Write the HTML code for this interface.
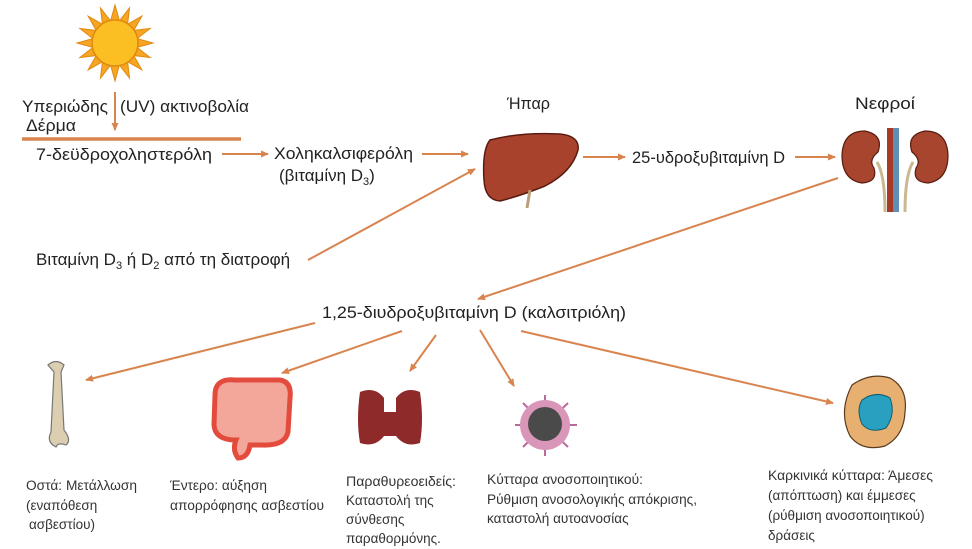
<!DOCTYPE html>
<html><head><meta charset="utf-8"><style>
html,body{margin:0;padding:0;background:#fff;}
svg{display:block;}
text{font-family:"Liberation Sans","DejaVu Sans",sans-serif;fill:#222;}
.m{font-size:17px;}
.s{font-size:13.5px;fill:#333;}
</style></head><body>
<svg width="972" height="549" viewBox="0 0 972 549" xmlns="http://www.w3.org/2000/svg">
<defs>
<marker id="a" markerWidth="8" markerHeight="8" refX="7" refY="4" orient="auto" markerUnits="userSpaceOnUse">
<path d="M0,0.5 L8,4 L0,7.5 z" fill="#d9844f"/>
</marker>
</defs>
<g transform="translate(115,43)">
<g fill="#f6a623" stroke="#e08a10" stroke-width="1">
<polygon points="0,-38 5,-20 -5,-20" transform="rotate(0)"/>
<polygon points="0,-38 5,-20 -5,-20" transform="rotate(22.5)"/>
<polygon points="0,-38 5,-20 -5,-20" transform="rotate(45)"/>
<polygon points="0,-38 5,-20 -5,-20" transform="rotate(67.5)"/>
<polygon points="0,-38 5,-20 -5,-20" transform="rotate(90)"/>
<polygon points="0,-38 5,-20 -5,-20" transform="rotate(112.5)"/>
<polygon points="0,-38 5,-20 -5,-20" transform="rotate(135)"/>
<polygon points="0,-38 5,-20 -5,-20" transform="rotate(157.5)"/>
<polygon points="0,-38 5,-20 -5,-20" transform="rotate(180)"/>
<polygon points="0,-38 5,-20 -5,-20" transform="rotate(202.5)"/>
<polygon points="0,-38 5,-20 -5,-20" transform="rotate(225)"/>
<polygon points="0,-38 5,-20 -5,-20" transform="rotate(247.5)"/>
<polygon points="0,-38 5,-20 -5,-20" transform="rotate(270)"/>
<polygon points="0,-38 5,-20 -5,-20" transform="rotate(292.5)"/>
<polygon points="0,-38 5,-20 -5,-20" transform="rotate(315)"/>
<polygon points="0,-38 5,-20 -5,-20" transform="rotate(337.5)"/>
</g>
<circle r="23" fill="#fbbf24" stroke="#e08a10" stroke-width="1.5"/>
</g>
<g stroke="#d9844f" stroke-width="2" fill="none" marker-end="url(#a)">
<line x1="115" y1="92" x2="115" y2="130"/>
<line x1="222" y1="154" x2="268" y2="154"/>
<line x1="422" y1="154" x2="468" y2="154"/>
<line x1="308" y1="260" x2="475" y2="169"/>
<line x1="583" y1="157" x2="625" y2="157"/>
<line x1="795" y1="157" x2="835" y2="157"/>
<line x1="838" y1="178" x2="478" y2="299"/>
<line x1="315" y1="323" x2="86" y2="380"/>
<line x1="402" y1="331" x2="282" y2="373"/>
<line x1="436" y1="335" x2="410" y2="371"/>
<line x1="480" y1="330" x2="514" y2="386"/>
<line x1="521" y1="331" x2="833" y2="403"/>
</g>
<line x1="22" y1="139" x2="241" y2="139" stroke="#d9844f" stroke-width="3.5"/>
<path d="M490,140 Q520,132 560,134 Q580,136 578,150 Q572,172 545,186 Q520,196 500,201 Q485,200 484,180 Q482,150 490,140 z" fill="#a8422d" stroke="#5a1c10" stroke-width="1.5"/>
<path d="M530,190 L527,208" stroke="#b9a07a" stroke-width="3"/>
<path d="M865,131 Q843,131 842,155 Q842,180 862,183 Q878,182 874,168 Q868,160 878,152 Q884,135 865,131 z" fill="#a8452e" stroke="#5a1c10" stroke-width="1.2"/>
<path d="M925,131 Q947,131 948,155 Q948,180 928,183 Q912,182 916,168 Q922,160 912,152 Q906,135 925,131 z" fill="#a8452e" stroke="#5a1c10" stroke-width="1.2"/>
<rect x="887" y="128" width="6" height="84" fill="#a83a28"/>
<rect x="893" y="128" width="6" height="84" fill="#5f8fb5"/>
<path d="M877,162 Q885,175 885,212 M913,162 Q905,175 905,212" stroke="#c9b892" stroke-width="3" fill="none"/>
<path d="M48,365 Q56,358 64,365 L61,372 L64,430 Q72,440 66,445 Q58,442 56,447 Q46,442 51,432 L54,372 Z" fill="#dcceb0" stroke="#777" stroke-width="1.2"/>
<path d="M215,395 Q215,378 235,380 L280,380 Q292,382 290,398 L288,432 Q285,446 262,445 L250,445 Q248,458 238,458 Q232,450 236,440 Q215,440 214,425 Z" fill="#f3a79a" stroke="#e34b3d" stroke-width="5"/>
<path d="M360,392 Q375,386 384,398 L384,412 L396,412 L396,398 Q405,386 420,392 Q424,420 420,443 Q405,448 396,436 L384,436 Q375,448 360,443 Q356,420 360,392 Z" fill="#8e2a2a"/>
<g stroke="#b86a9a" stroke-width="2" fill="none">
<line x1="545" y1="425" x2="545" y2="395"/><line x1="545" y1="425" x2="545" y2="456"/>
<line x1="545" y1="425" x2="515" y2="425"/><line x1="545" y1="425" x2="577" y2="425"/>
<line x1="545" y1="425" x2="523" y2="403"/><line x1="545" y1="425" x2="568" y2="403"/>
<line x1="545" y1="425" x2="523" y2="447"/><line x1="545" y1="425" x2="568" y2="447"/>
</g>
<circle cx="545" cy="425" r="25" fill="#d996b8"/>
<circle cx="545" cy="424" r="17" fill="#4a4a4a"/>
<path d="M852,385 Q870,372 890,378 Q908,388 905,412 Q904,436 885,446 Q862,452 850,436 Q838,412 852,385 Z" fill="#e8b070" stroke="#5a3a20" stroke-width="1.2"/>
<path d="M862,400 Q876,390 890,398 Q896,414 886,428 Q870,434 862,424 Q856,410 862,400 Z" fill="#2aa0c0" stroke="#0d5d75" stroke-width="1"/>
<text class="m" x="22" y="112" textLength="86" lengthAdjust="spacingAndGlyphs">Υπεριώδης</text>
<text class="m" x="120" y="112" textLength="129" lengthAdjust="spacingAndGlyphs">(UV) ακτινοβολία</text>
<text class="m" x="26" y="131" textLength="50" lengthAdjust="spacingAndGlyphs">Δέρμα</text>
<text class="m" x="36" y="160" textLength="176" lengthAdjust="spacingAndGlyphs">7-δεϋδροχοληστερόλη</text>
<text class="m" x="274" y="159" textLength="139" lengthAdjust="spacingAndGlyphs">Χοληκαλσιφερόλη</text>
<text class="m" x="279" y="181">(βιταμίνη D<tspan font-size="11" dy="4">3</tspan><tspan dy="-4">)</tspan></text>
<text class="m" x="507" y="109" textLength="43" lengthAdjust="spacingAndGlyphs">Ήπαρ</text>
<text class="m" x="855" y="109" textLength="60" lengthAdjust="spacingAndGlyphs">Νεφροί</text>
<text class="m" x="632" y="163" textLength="153" lengthAdjust="spacingAndGlyphs">25-υδροξυβιταμίνη D</text>
<text class="m" x="36" y="265">Βιταμίνη D<tspan font-size="11" dy="4">3</tspan><tspan dy="-4"> ή D</tspan><tspan font-size="11" dy="4">2</tspan><tspan dy="-4"> από τη διατροφή</tspan></text>
<text class="m" x="322" y="318" textLength="304" lengthAdjust="spacingAndGlyphs">1,25-διυδροξυβιταμίνη D (καλσιτριόλη)</text>
<text class="s" x="26" y="490" textLength="111" lengthAdjust="spacingAndGlyphs">Οστά: Μετάλλωση</text>
<text class="s" x="26" y="510">(εναπόθεση</text>
<text class="s" x="29" y="529">ασβεστίου)</text>
<text class="s" x="170" y="490" textLength="97" lengthAdjust="spacingAndGlyphs">Έντερο: αύξηση</text>
<text class="s" x="170" y="510" textLength="154" lengthAdjust="spacingAndGlyphs">απορρόφησης ασβεστίου</text>
<text class="s" x="346" y="486" textLength="110" lengthAdjust="spacingAndGlyphs">Παραθυρεοειδείς:</text>
<text class="s" x="346" y="505">Καταστολή της</text>
<text class="s" x="346" y="524">σύνθεσης</text>
<text class="s" x="346" y="543">παραθορμόνης.</text>
<text class="s" x="487" y="484" textLength="156" lengthAdjust="spacingAndGlyphs">Κύτταρα ανοσοποιητικού:</text>
<text class="s" x="487" y="504" textLength="210" lengthAdjust="spacingAndGlyphs">Ρύθμιση ανοσολογικής απόκρισης,</text>
<text class="s" x="487" y="523">καταστολή αυτοανοσίας</text>
<text class="s" x="768" y="480" textLength="165" lengthAdjust="spacingAndGlyphs">Καρκινικά κύτταρα: Άμεσες</text>
<text class="s" x="768" y="500">(απόπτωση) και έμμεσες</text>
<text class="s" x="768" y="520">(ρύθμιση ανοσοποιητικού)</text>
<text class="s" x="768" y="540">δράσεις</text>
</svg>
</body></html>
